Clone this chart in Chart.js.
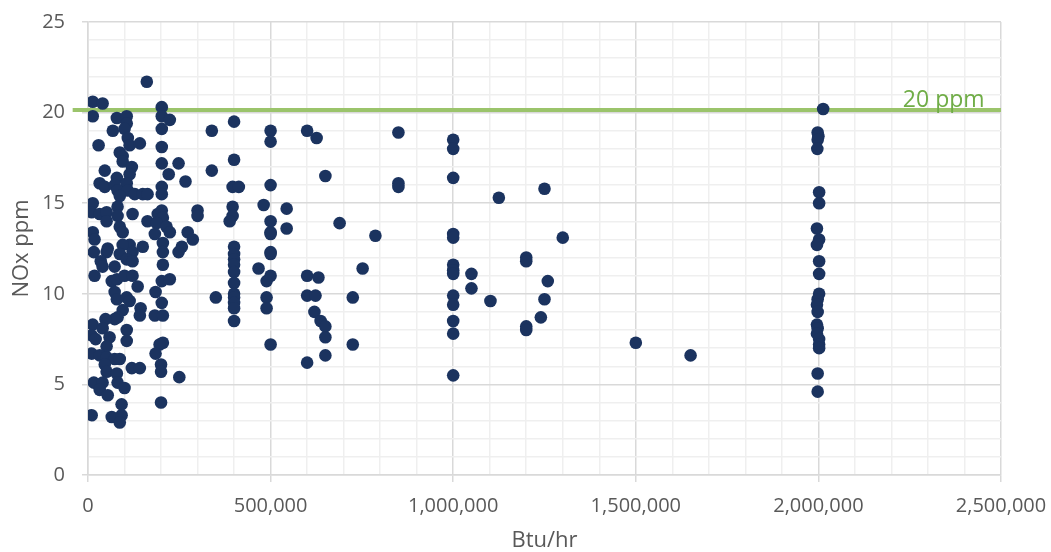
<!DOCTYPE html>
<html>
<head>
<meta charset="utf-8">
<script src="https://cdn.jsdelivr.net/npm/chart.js@4.4.1/dist/chart.umd.min.js"></script>
<style>
  html, body { margin: 0; padding: 0; background: #ffffff; }
  #wrap { width: 1051px; height: 552px; position: relative; }
</style>
</head>
<body>
<div id="wrap"><canvas id="c" width="1051" height="552"></canvas></div>
<script>
// Burner input (Btu/hr, thousands) and measured NOx (ppm)
const btuThousands = [
  161,13,40,202,13,79,106,106,202,224,68,100,202,109,114,142,29,202,87,95,95,202,248,120,114,221,267,46,79,32,46,73,106,81,109,87,128,150,163,202,202,13,10,32,51,51,81,81,122,163,191,202,205,188,215,300,300,273,287,13,18,87,95,183,224,114,54,150,
  400,339,500,500,400,339,500,396,413,396,396,388,481,544,500,500,500,544,400,257,400,400,400,400,400,400,400,400,400,400,350,500,500,467,500,489,489,489,500,
  16,51,35,40,18,73,95,122,87,106,122,205,205,248,205,65,79,100,122,136,202,224,185,73,79,106,114,202,144,142,183,205,95,81,73,48,13,10,21,40,59,106,106,51,10,32,51,73,87,46,205,196,185,200,200,120,142,51,79,250,16,40,81,100,32,54,200,92,10,65,92,87,
  600,626,850,1000,1000,650,850,850,1000,1125,1250,689,787,1000,1000,1300,600,631,600,623,620,637,650,650,650,600,725,725,752,1000,1000,1000,1000,1000,1000,1000,1000,1050,1050,1102,1200,1200,1200,1200,1259,1250,1240,1500,1650,
  2013,1998,2000,1998,1997,2002,2002,1996,2002,1996,2002,2002,2002,1998,1996,1998,1996,1998,1996,2002,2002,2002,1998,1998
];
const noxPpm = [
  21.7,20.6,20.5,20.3,19.8,19.7,19.8,19.4,19.8,19.6,19.0,19.1,19.1,18.6,18.2,18.3,18.2,18.1,17.8,17.6,17.3,17.2,17.2,17.0,16.6,16.6,16.2,16.8,16.4,16.1,15.9,16.0,16.1,15.7,15.7,15.4,15.5,15.5,15.5,15.9,15.5,15.0,14.5,14.4,14.5,14.0,14.8,14.3,14.4,14.0,14.4,14.6,14.2,13.9,13.7,14.6,14.3,13.4,13.0,13.4,13.0,13.7,13.4,13.3,13.4,12.7,12.5,12.6,
  19.5,19.0,19.0,18.4,17.4,16.8,16.0,15.9,15.9,14.8,14.3,14.0,14.9,14.7,14.0,13.4,13.3,13.6,12.6,12.6,12.2,11.9,11.6,11.2,10.6,10.0,9.8,9.5,9.2,8.5,9.8,12.3,12.2,11.4,11.0,10.7,9.8,9.2,7.2,
  12.3,12.3,11.8,11.5,11.0,11.5,12.7,12.3,12.2,11.9,11.8,12.8,12.3,12.3,11.6,10.7,10.8,11.0,11.0,10.4,10.7,10.8,10.1,10.1,9.7,9.8,9.6,9.5,9.2,8.8,8.8,8.8,9.1,8.7,8.6,8.6,8.3,7.7,7.5,8.1,7.6,8.0,7.4,7.1,6.7,6.6,6.5,6.4,6.4,6.1,7.3,7.2,6.7,6.1,5.7,5.9,5.9,5.7,5.6,5.4,5.1,5.1,5.1,4.8,4.7,4.4,4.0,3.9,3.3,3.2,3.3,2.9,
  19.0,18.6,18.9,18.5,18.0,16.5,16.1,15.9,16.4,15.3,15.8,13.9,13.2,13.3,13.1,13.1,11.0,10.9,9.9,9.9,9.0,8.5,8.2,7.6,6.6,6.2,9.8,7.2,11.4,11.6,11.3,11.1,9.9,9.4,8.5,7.8,5.5,11.1,10.3,9.6,12.0,11.8,8.2,8.0,10.7,9.7,8.7,7.3,6.6,
  20.2,18.9,18.7,18.5,18.0,15.6,15.0,13.6,13.0,12.7,11.8,11.1,10.0,9.7,9.4,9.0,8.3,8.1,7.8,7.5,7.2,7.0,5.6,4.6
];
const limitPpm = 20.15;
const limitLabel = '20 ppm';
const limitStartBtu = -42000;
const xMin = 0, xMax = 2500000, xStep = 100000, xLabelEvery = 500000;
const yMin = 0, yMax = 25, yStep = 1, yLabelEvery = 5;
const xTitle = 'Btu/hr';
const yTitle = 'NOx ppm';

const points = btuThousands.map((b, i) => ({ x: b * 1000, y: noxPpm[i] }));

const FONT = "'Open Sans', 'DejaVu Sans', sans-serif";
const TICK_COLOR = '#595959';
const MAJOR = '#d9d9d9';
const MINOR = '#efefef';

const limitLabelPlugin = {
  id: 'limitLabel',
  afterDatasetsDraw(chart) {
    const { ctx, scales } = chart;
    const x = scales.x.getPixelForValue(2455000);
    const y = scales.y.getPixelForValue(limitPpm);
    ctx.save();
    ctx.font = "23px " + FONT;
    ctx.fillStyle = '#70ad47';
    ctx.textAlign = 'right';
    ctx.textBaseline = 'alphabetic';
    ctx.fillText(limitLabel, x, y - 3);
    ctx.restore();
  }
};

new Chart(document.getElementById('c'), {
  data: {
    datasets: [
      {
        type: 'scatter',
        label: 'NOx',
        data: points,
        backgroundColor: '#1b335f',
        borderColor: '#1b335f',
        borderWidth: 0,
        pointRadius: 6.3,
        pointHoverRadius: 6.3,
        order: 0
      },
      {
        type: 'line',
        label: 'Limit',
        data: [{ x: limitStartBtu, y: limitPpm }, { x: xMax, y: limitPpm }],
        borderColor: '#9bc46b',
        borderWidth: 4,
        pointRadius: 0,
        fill: false,
        clip: false,
        order: 1
      }
    ]
  },
  options: {
    responsive: false,
    animation: false,
    layout: { autoPadding: false, padding: { left: 0, right: 50, top: 22, bottom: 0 } },
    plugins: { legend: { display: false }, tooltip: { enabled: false } },
    scales: {
      x: {
        type: 'linear',
        min: xMin, max: xMax,
        afterFit(scale) { scale.height = 77; scale.paddingLeft = 0; scale.paddingRight = 0; },
        ticks: {
          stepSize: xStep,
          autoSkip: false,
          maxRotation: 0,
          padding: 12,
          color: TICK_COLOR,
          font: { family: FONT, size: 20 },
          callback: (v) => (v % xLabelEvery === 0 ? Number(v).toLocaleString('en-US') : '')
        },
        grid: {
          color: (c) => (c.tick && c.tick.value % xLabelEvery === 0 ? MAJOR : MINOR),
          lineWidth: 1.5,
          tickColor: (c) => (c.tick && c.tick.value % xLabelEvery === 0 ? MAJOR : 'rgba(0,0,0,0)'),
          tickLength: 7
        },
        border: { color: MAJOR, width: 1.5 },
        title: {
          display: true, text: xTitle, color: TICK_COLOR,
          font: { family: FONT, size: 22, lineHeight: 1 },
          padding: { top: 0, bottom: 0 }
        }
      },
      y: {
        type: 'linear',
        min: yMin, max: yMax,
        afterFit(scale) { scale.width = 88; scale.paddingTop = 0; scale.paddingBottom = 0; },
        ticks: {
          stepSize: yStep,
          autoSkip: false,
          padding: 17,
          color: TICK_COLOR,
          font: { family: FONT, size: 20 },
          callback: (v) => (v % yLabelEvery === 0 ? String(v) : '')
        },
        grid: {
          color: (c) => (c.tick && c.tick.value % yLabelEvery === 0 ? MAJOR : MINOR),
          lineWidth: 1.5,
          tickColor: (c) => (c.tick && c.tick.value % yLabelEvery === 0 ? MAJOR : 'rgba(0,0,0,0)'),
          tickLength: 6
        },
        border: { color: MAJOR, width: 1.5 },
        title: {
          display: true, text: yTitle, color: TICK_COLOR,
          font: { family: FONT, size: 22, lineHeight: 1 },
          padding: { top: 11, bottom: 0 }
        }
      }
    }
  },
  plugins: [limitLabelPlugin]
});
</script>
</body>
</html>
